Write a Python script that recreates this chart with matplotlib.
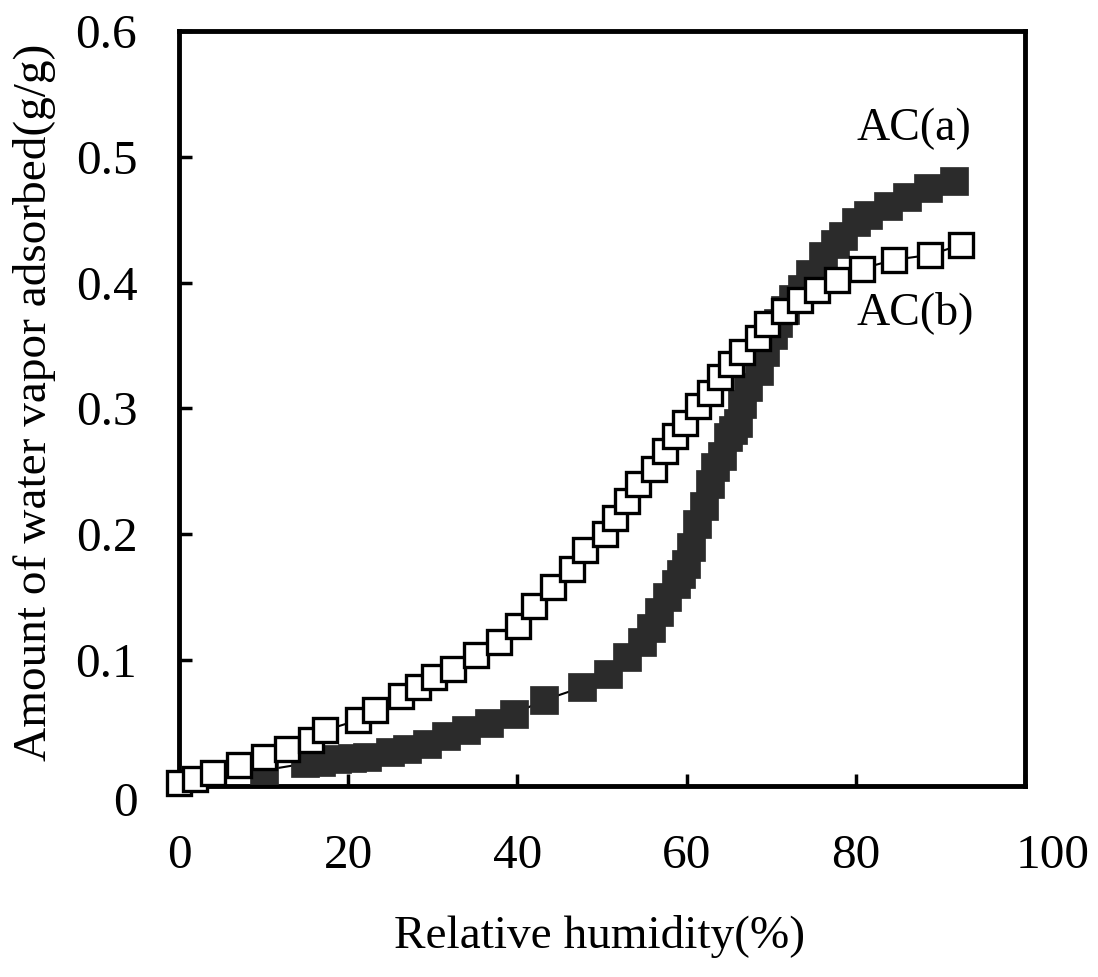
import matplotlib
matplotlib.use("Agg")
import matplotlib.pyplot as plt
from matplotlib.transforms import ScaledTranslation

# AC(a): filled squares
rh_a = [10.0, 14.9, 16.8, 18.7, 20.5, 22.2, 24.9, 26.9, 29.3, 31.6, 33.9, 36.7,
        39.6, 43.2, 47.6, 50.7, 52.9, 54.7, 55.8, 56.7, 57.7, 58.7, 59.3, 59.9,
        60.5, 61.2, 62.0, 62.8, 63.4, 64.2, 64.9, 65.5, 66.1, 66.6, 67.3, 68.5,
        69.3, 70.2, 70.8, 71.6, 72.6, 73.6, 74.6, 76.1, 77.5, 78.5, 80.0, 81.4,
        83.8, 86.1, 88.5, 91.6]
q_a = [0.012, 0.0175, 0.019, 0.021, 0.022, 0.023, 0.027, 0.029, 0.033, 0.039,
       0.044, 0.050, 0.057, 0.068, 0.078, 0.089, 0.102, 0.114, 0.125, 0.138,
       0.150, 0.160, 0.168, 0.176, 0.190, 0.208, 0.222, 0.240, 0.253, 0.262,
       0.277, 0.283, 0.288, 0.303, 0.317, 0.330, 0.345, 0.358, 0.368, 0.378,
       0.387, 0.395, 0.407, 0.421, 0.431, 0.437, 0.448, 0.454, 0.461, 0.468,
       0.475, 0.481]

# AC(b): open squares
rh_b = [0.0, 1.9, 4.0, 7.1, 10.0, 12.8, 15.6, 17.3, 21.2, 23.2, 26.3, 28.2,
        30.1, 32.4, 35.1, 37.8, 40.1, 42.0, 44.2, 46.5, 48.0, 50.4, 51.5, 53.0,
        54.3, 56.2, 57.4, 58.6, 59.8, 61.3, 62.8, 64.0, 65.2, 66.5, 68.4, 69.5,
        71.5, 73.4, 75.4, 77.8, 80.7, 84.5, 88.8, 92.4]
q_b = [0.002, 0.005, 0.010, 0.016, 0.023, 0.029, 0.036, 0.044, 0.052, 0.060,
       0.071, 0.078, 0.086, 0.093, 0.104, 0.114, 0.127, 0.143, 0.158, 0.172,
       0.187, 0.200, 0.213, 0.226, 0.240, 0.252, 0.266, 0.278, 0.288, 0.302,
       0.312, 0.325, 0.335, 0.345, 0.356, 0.367, 0.377, 0.386, 0.394, 0.402,
       0.411, 0.418, 0.422, 0.430]

x_ticks = [0, 20, 40, 60, 80, 100]
y_ticks = [0, 0.1, 0.2, 0.3, 0.4, 0.5, 0.6]
y_tick_labels = ["0", "0.1", "0.2", "0.3", "0.4", "0.5", "0.6"]

plt.rcParams['font.family'] = ['Liberation Serif', 'DejaVu Serif']

fig = plt.figure(figsize=(10.98, 9.77), dpi=100)
ax = fig.add_axes([179/1098, 1-785.5/977, (1025-179)/1098, (785.5-31)/977])

ax.plot(rh_a, q_a, color='black', lw=1.5, marker='s', ms=19.5,
        mfc='#2b2b2b', mec='#2b2b2b', mew=0.5, clip_on=False, zorder=3)
ax.plot(rh_b, q_b, color='black', lw=1.5, marker='s', ms=17,
        mfc='white', mec='black', mew=2.4, clip_on=False, zorder=4)

ax.set_xlim(0, 100)
ax.set_ylim(0, 0.6)
ax.set_xticks(x_ticks)
ax.set_yticks(y_ticks)
ax.set_yticklabels(y_tick_labels)

for s in ax.spines.values():
    s.set_linewidth(3.5)
ax.tick_params(axis='both', direction='in', length=9, width=2.5,
               labelsize=35.5, top=False, right=False)
ax.tick_params(axis='y', pad=30)
ax.tick_params(axis='x', pad=35)

# shift the "0" y tick label slightly down and "100" right, as in the reference
lab0 = ax.get_yticklabels()[0]
lab0.set_transform(lab0.get_transform() + ScaledTranslation(0, -0.14, fig.dpi_scale_trans))
lab100 = ax.get_xticklabels()[-1]
lab100.set_transform(lab100.get_transform() + ScaledTranslation(0.28, 0, fig.dpi_scale_trans))

ax.set_ylabel("Amount of water vapor adsorbed(g/g)", fontsize=34)
ax.yaxis.set_label_coords(-0.145, 0.508)
ax.set_xlabel("Relative humidity(%)", fontsize=34)
ax.xaxis.set_label_coords(0.4976, -0.171)

ax.text(80.1, 0.522, "AC(a)", fontsize=33, ha='left', va='center')
ax.text(80.1, 0.376, "AC(b)", fontsize=33, ha='left', va='center')

fig.savefig("out.png", dpi=100)
